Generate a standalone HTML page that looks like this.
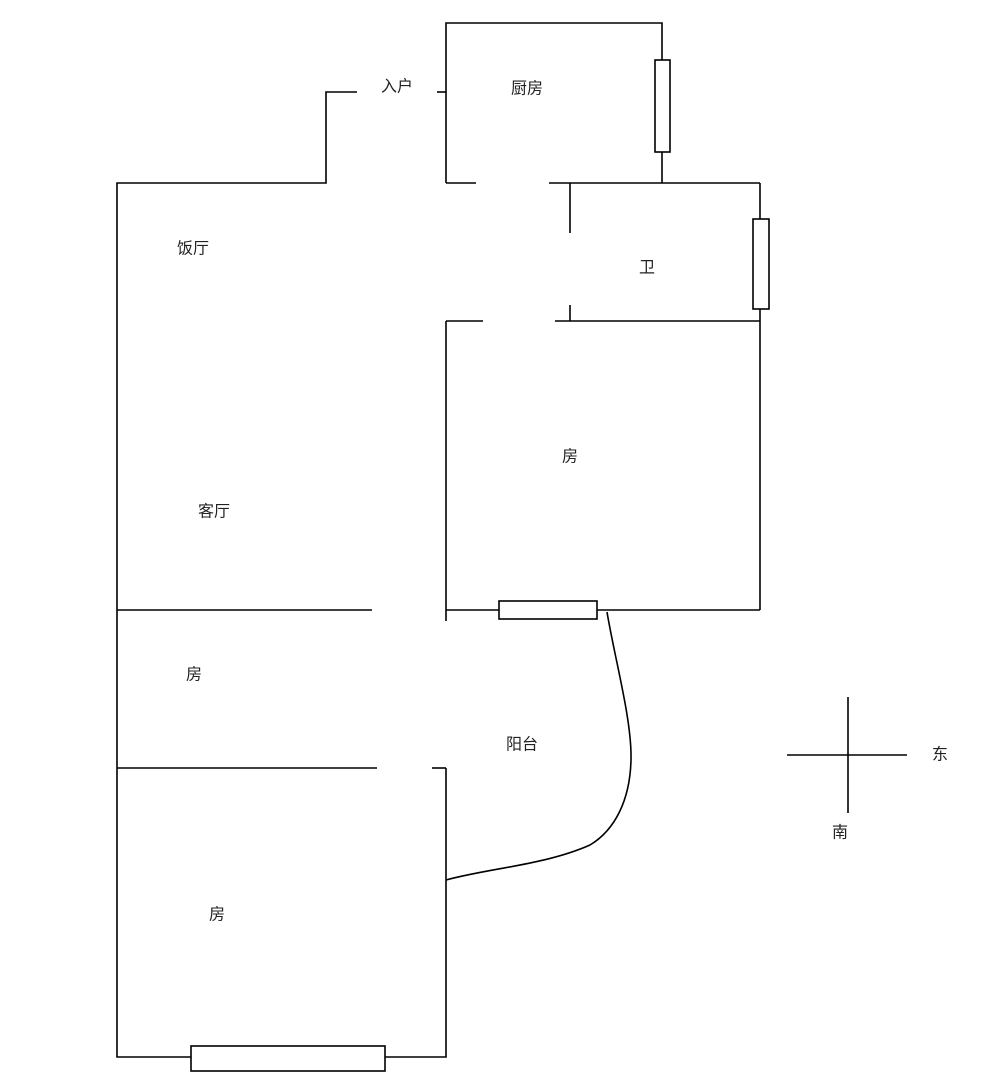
<!DOCTYPE html>
<html><head><meta charset="utf-8"><style>
html,body{margin:0;padding:0;background:#fff;}
svg{display:block;}
text{font-family:"Liberation Sans","Noto Sans CJK SC",sans-serif;font-size:16px;fill:#222;text-anchor:middle;dominant-baseline:central;}
</style></head><body>
<svg width="1000" height="1086" viewBox="0 0 1000 1086" xmlns="http://www.w3.org/2000/svg">
<g stroke="#000" stroke-width="1.6" fill="none">
<!-- kitchen -->
<polyline points="446,183 446,23 662,23 662,183"/>
<rect x="655" y="60" width="15" height="92" fill="#fff"/>
<!-- entry -->
<polyline points="357,92 326,92 326,183 117,183 117,1057 446,1057 446,768"/>
<line x1="437" y1="92" x2="446" y2="92"/>
<line x1="446" y1="183" x2="476" y2="183"/>
<line x1="549" y1="183" x2="760" y2="183"/>
<!-- bath -->
<line x1="570" y1="183" x2="570" y2="233"/>
<line x1="570" y1="305" x2="570" y2="321"/>
<line x1="760" y1="183" x2="760" y2="610"/>
<rect x="753" y="219" width="16" height="90" fill="#fff"/>
<line x1="446" y1="321" x2="483" y2="321"/>
<line x1="555" y1="321" x2="760" y2="321"/>
<!-- room -->
<line x1="446" y1="321" x2="446" y2="621"/>
<line x1="446" y1="610" x2="760" y2="610"/>
<rect x="499" y="601" width="98" height="18" fill="#fff"/>
<line x1="117" y1="610" x2="372" y2="610"/>
<line x1="117" y1="768" x2="377" y2="768"/>
<line x1="432" y1="768" x2="446" y2="768"/>
<path d="M607,612 C615,660 632,720 631,760 C630,800 615,830 590,845 C545,865 490,868 446,880"/>
<rect x="191" y="1046" width="194" height="25" fill="#fff"/>
<!-- compass -->
<line x1="848" y1="697" x2="848" y2="813"/>
<line x1="787" y1="755" x2="907" y2="755"/>
</g>
<text x="397" y="87">入户</text>
<text x="527" y="89">厨房</text>
<text x="647" y="268">卫</text>
<text x="193" y="249">饭厅</text>
<text x="570" y="457">房</text>
<text x="214" y="512">客厅</text>
<text x="194" y="675">房</text>
<text x="522" y="745">阳台</text>
<text x="217" y="915">房</text>
<text x="940" y="755">东</text>
<text x="840" y="833">南</text>
</svg>
</body></html>
